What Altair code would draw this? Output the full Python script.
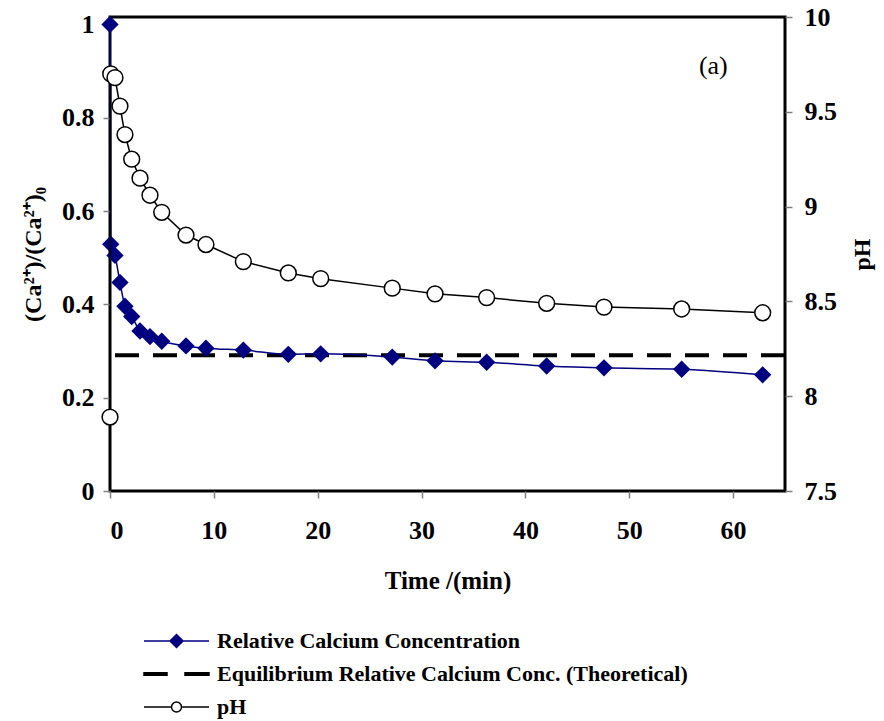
import altair as alt
import pandas as pd

# ---- data ----
time_min = [0, 0.07, 0.48, 0.96, 1.44, 2.09, 2.89, 3.85, 4.98, 7.32, 9.24,
            12.84, 17.17, 20.29, 27.18, 31.30, 36.27, 42.05, 47.57, 55.05, 62.85]
rel_ca = [1.0, 0.529, 0.505, 0.447, 0.396, 0.374, 0.343, 0.331, 0.321, 0.311, 0.306,
          0.302, 0.293, 0.294, 0.287, 0.279, 0.276, 0.268, 0.264, 0.261, 0.249]
ph = [7.89, 9.70, 9.68, 9.53, 9.38, 9.25, 9.15, 9.06, 8.97, 8.85, 8.80,
      8.71, 8.65, 8.62, 8.57, 8.54, 8.52, 8.49, 8.47, 8.46, 8.44]
equilibrium_ca = [0.291]

x_ticks = [0, 10, 20, 30, 40, 50, 60]
left_ticks = [0, 0.2, 0.4, 0.6, 0.8, 1]
right_ticks = [7.5, 8, 8.5, 9, 9.5, 10]

series_names = ["Relative Calcium Concentration",
                "Equilibrium Relative Calcium Conc. (Theoretical)",
                "pH"]

df = pd.DataFrame({"t": time_min, "ca": rel_ca, "ph": ph})
eq_df = pd.DataFrame({"eq": equilibrium_ca})
leg_df = pd.DataFrame({"series": series_names})

FONT = "Liberation Serif"
NAVY = "#000080"

x_enc = alt.X("t:Q", scale=alt.Scale(domain=[0, 65], nice=False),
              axis=alt.Axis(values=x_ticks, format="~g", title="Time /(min)",
                            titlePadding=25, labelPadding=19, titleFontSize=25))
y_left_scale = alt.Scale(domain=[0, 1.016], nice=False, zero=False)
y_left_axis = alt.Axis(values=left_ticks, format="~g", orient="left",
                       title="(Ca²⁺)/(Ca²⁺)₀", titlePadding=16, labelPadding=9,
                       titleFontSize=24)

base = alt.Chart(df)

eq_rule = alt.Chart(eq_df).mark_rule(color="black", strokeWidth=4,
                                     strokeDash=[24, 14]).encode(
    y=alt.Y("eq:Q", scale=y_left_scale, axis=y_left_axis))

ca_line = base.mark_line(color=NAVY, strokeWidth=1.5, interpolate="monotone").encode(
    x=x_enc, y=alt.Y("ca:Q", scale=y_left_scale, axis=y_left_axis))
ca_pts = base.mark_point(shape="diamond", filled=True, color=NAVY, size=300,
                         opacity=1).encode(
    x=x_enc, y=alt.Y("ca:Q", scale=y_left_scale, axis=y_left_axis))

label_a = alt.Chart(pd.DataFrame({"lab": ["(a)"]})).mark_text(
    font=FONT, fontSize=26, color="black").encode(
    x=alt.datum(58.1), y=alt.datum(0.91, scale=y_left_scale), text="lab:N")

left = alt.layer(eq_rule, ca_line, ca_pts, label_a)

y_right_scale = alt.Scale(domain=[7.5, 10], nice=False, zero=False)
y_right_axis = alt.Axis(values=right_ticks, format="~g", orient="right",
                        title="pH", titleAngle=270, titlePadding=38, labelPadding=12)
ph_line = base.mark_line(color="black", strokeWidth=1.5).encode(
    x=x_enc, y=alt.Y("ph:Q", scale=y_right_scale, axis=y_right_axis))
ph_pts = base.mark_point(shape="circle", filled=True, fill="white", stroke="black",
                         strokeWidth=1.5, size=250, opacity=1).encode(
    x=x_enc, y=alt.Y("ph:Q", scale=y_right_scale, axis=y_right_axis))
right = alt.layer(ph_line, ph_pts)

# legend glyphs (custom symbol paths: line + marker)
ca_glyph = "M-1,0H5.5M2.25,-0.65L2.9,0L2.25,0.65L1.6,0Z"
eq_glyph = "M-1,-0.12H1.3V0.12H-1Z M3.1,-0.12H5.5V0.12H3.1Z"
ph_glyph = ("M-1,0H1.75 M2.75,0H5.5 M2.75,0 C2.75,0.276 2.526,0.5 2.25,0.5 "
            "C1.974,0.5 1.75,0.276 1.75,0 C1.75,-0.276 1.974,-0.5 2.25,-0.5 "
            "C2.526,-0.5 2.75,-0.276 2.75,0 Z")

legend_layer = alt.Chart(leg_df).mark_point(filled=True, strokeWidth=1.5).encode(
    x=alt.value(0), y=alt.value(0), opacity=alt.value(0),
    fill=alt.Fill("series:N", title=None,
                  scale=alt.Scale(domain=series_names, range=[NAVY, "black", "white"])),
    stroke=alt.Stroke("series:N", title=None,
                      scale=alt.Scale(domain=series_names, range=[NAVY, "black", "black"])),
    shape=alt.Shape("series:N", title=None,
                    scale=alt.Scale(domain=series_names, range=[ca_glyph, eq_glyph, ph_glyph])),
)

chart = alt.layer(left, right, legend_layer).resolve_scale(
    y="independent"
).properties(
    width=675, height=474,
    autosize=alt.AutoSizeParams(type="none"),
    padding={"left": 110, "top": 17, "right": 99, "bottom": 230},
    background="white",
).configure_view(
    stroke="black", strokeWidth=3
).configure_axis(
    grid=False, domain=False,
    labelFont=FONT, labelFontSize=26, labelFontWeight="bold", labelColor="black",
    titleFont=FONT, titleFontSize=24, titleFontWeight="bold", titleColor="black",
    tickColor="#808080", tickWidth=1.5, tickSize=7,
).configure_legend(
    orient="none", legendX=33, legendY=613, padding=0,
    symbolSize=400, symbolStrokeWidth=1.5, symbolOpacity=1,
    labelFont=FONT, labelFontSize=22, labelFontWeight="bold", labelColor="black",
    labelOffset=52, rowPadding=11, labelLimit=700,
)

chart.save("out.html", embed_options={"renderer": "svg", "actions": False})
